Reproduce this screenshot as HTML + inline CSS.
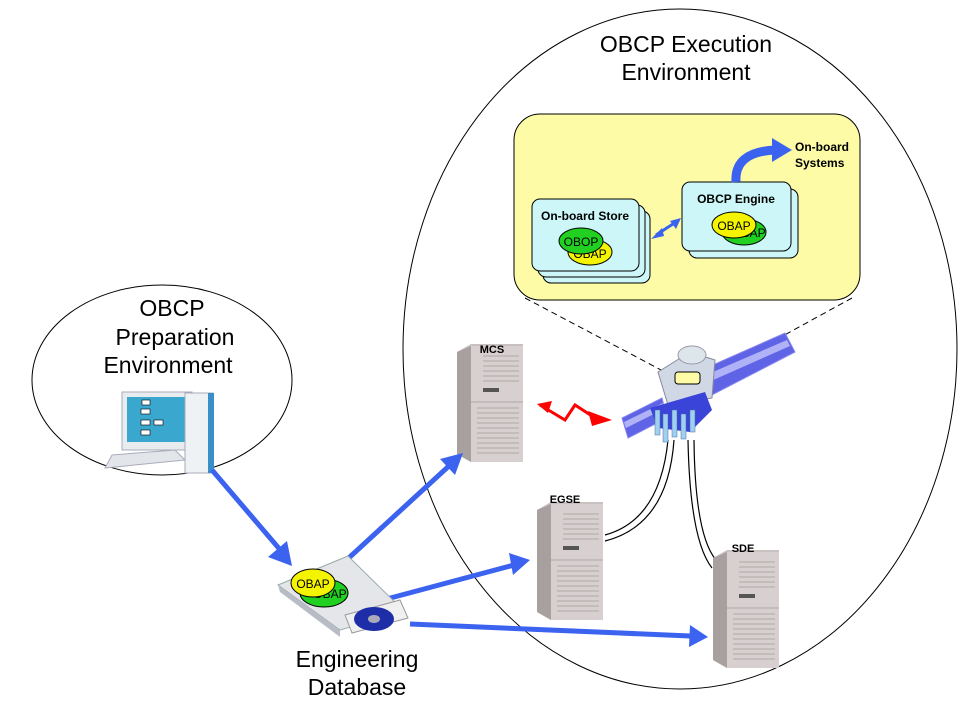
<!DOCTYPE html>
<html><head><meta charset="utf-8"><style>
body{margin:0;background:#fff;}
svg{display:block;font-family:"Liberation Sans",sans-serif;}
</style></head><body>
<svg width="960" height="720" viewBox="0 0 960 720" xmlns="http://www.w3.org/2000/svg">
<defs>
<g id="srv">
<polygon points="0,8 14,0 66,0 66,118 14,118 0,110" fill="#c9c0c0"/>
<polygon points="0,8 14,2 14,118 0,110" fill="#a89f9f"/>
<rect x="14" y="2" width="52" height="116" fill="#d8d0d0"/>
<g stroke="#b0a6a6" stroke-width="1">
<line x1="26" y1="12" x2="62" y2="12"/><line x1="26" y1="17" x2="62" y2="17"/><line x1="26" y1="22" x2="62" y2="22"/><line x1="26" y1="27" x2="62" y2="27"/><line x1="26" y1="32" x2="62" y2="32"/><line x1="26" y1="37" x2="62" y2="37"/>
<line x1="20" y1="64" x2="62" y2="64"/><line x1="20" y1="69" x2="62" y2="69"/><line x1="20" y1="74" x2="62" y2="74"/><line x1="20" y1="79" x2="62" y2="79"/><line x1="20" y1="84" x2="62" y2="84"/><line x1="20" y1="89" x2="62" y2="89"/><line x1="20" y1="94" x2="62" y2="94"/><line x1="20" y1="99" x2="62" y2="99"/><line x1="20" y1="104" x2="62" y2="104"/><line x1="20" y1="109" x2="62" y2="109"/>
</g>
<rect x="26" y="44" width="16" height="4" fill="#555"/>
<line x1="14" y1="58" x2="66" y2="58" stroke="#aaa"/>
</g>
</defs>

<ellipse cx="680" cy="349" rx="277" ry="340" fill="none" stroke="#000" stroke-width="1"/>
<ellipse cx="162" cy="380" rx="130" ry="95" fill="none" stroke="#000" stroke-width="1"/>

<text x="686" y="52" font-size="23" text-anchor="middle">OBCP Execution</text>
<text x="686" y="80" font-size="23" text-anchor="middle">Environment</text>
<text x="172" y="316" font-size="23" text-anchor="middle">OBCP</text>
<text x="175" y="345" font-size="23" text-anchor="middle">Preparation</text>
<text x="168" y="373" font-size="23" text-anchor="middle">Environment</text>
<text x="357" y="667" font-size="23" text-anchor="middle">Engineering</text>
<text x="357" y="695" font-size="23" text-anchor="middle">Database</text>

<line x1="525" y1="298" x2="680" y2="380" stroke="#000" stroke-dasharray="6,4"/>
<line x1="852" y1="298" x2="706" y2="378" stroke="#000" stroke-dasharray="6,4"/>

<rect x="514" y="114" width="346" height="186" rx="26" fill="#fdfba6" stroke="#000" stroke-width="1"/>
<rect x="543" y="211" width="107" height="72" rx="8" fill="#cdf6f8" stroke="#000"/>
<rect x="538" y="205" width="107" height="72" rx="8" fill="#cdf6f8" stroke="#000"/>
<rect x="532" y="199" width="107" height="72" rx="8" fill="#cdf6f8" stroke="#000"/>
<text x="585" y="220" font-size="12" font-weight="bold" text-anchor="middle">On-board Store</text>
<ellipse cx="590" cy="252" rx="22" ry="13" fill="#f4f400" stroke="#000"/>
<text x="590" y="258" font-size="12" text-anchor="middle">OBAP</text>
<ellipse cx="581" cy="241" rx="22" ry="13" fill="#21d021" stroke="#000"/>
<text x="581" y="246" font-size="12" text-anchor="middle">OBOP</text>
<rect x="689" y="189" width="109" height="69" rx="8" fill="#cdf6f8" stroke="#000"/>
<rect x="682" y="182" width="109" height="69" rx="8" fill="#cdf6f8" stroke="#000"/>
<text x="736" y="203" font-size="12" font-weight="bold" text-anchor="middle">OBCP Engine</text>
<ellipse cx="744" cy="232" rx="22" ry="13" fill="#21d021" stroke="#000"/>
<text x="749" y="237" font-size="12" text-anchor="middle">OBAP</text>
<ellipse cx="734" cy="225" rx="22" ry="13" fill="#f4f400" stroke="#000"/>
<text x="734" y="230" font-size="12" text-anchor="middle">OBAP</text>
<line x1="656" y1="235" x2="676" y2="222" stroke="#3b63f0" stroke-width="3"/>
<path d="M651,239 L662,228 L664,236 z M681,218 L670,221 L676,229 z" fill="#3b63f0"/>
<path d="M736,182 Q734,152 775,150" fill="none" stroke="#3b63f0" stroke-width="9"/>
<path d="M772,138 L792,150 L772,162 z" fill="#3b63f0"/>
<text x="795" y="151" font-size="12" font-weight="bold">On-board</text>
<text x="795" y="167" font-size="12" font-weight="bold">Systems</text>

<g fill="none" stroke="#000" stroke-width="1.2">
<path d="M668,440 Q660,520 605,535"/><path d="M674,440 Q668,525 605,541"/>
<path d="M688,440 Q690,540 712,568"/><path d="M694,440 Q695,535 716,560"/>
</g>

<!-- satellite -->
<g>
<polygon points="622,418 662,398 667,418 628,438" fill="#5f63e6" stroke="#8886ee"/>
<polygon points="624,422 663,403 664,409 626,428" fill="#b0b2f7"/>
<polygon points="697,372 785,333 795,352 706,398" fill="#5f63e6" stroke="#8886ee"/>
<polygon points="699,378 787,340 790,346 702,385" fill="#b0b2f7"/>
<polygon points="658,372 690,352 715,360 712,398 668,405" fill="#cfd8e4" stroke="#889"/>
<ellipse cx="692" cy="355" rx="14" ry="9" fill="#dde6ea" stroke="#99a"/>
<polygon points="650,408 705,392 712,410 690,432 658,428" fill="#3b44d8"/>
<g fill="#9fd0f0" stroke="#4a6fa0" stroke-width="0.5">
<rect x="655" y="410" width="5" height="25"/><rect x="663" y="414" width="5" height="28"/><rect x="672" y="410" width="5" height="27"/><rect x="681" y="414" width="5" height="25"/><rect x="690" y="410" width="5" height="22"/>
</g>
<rect x="675" y="372" width="25" height="12" rx="3" fill="#fdfba6" stroke="#000"/>
</g>

<path d="M540,405 L565,420 L575,405 L595,418" fill="none" stroke="#f00" stroke-width="3"/>
<path d="M588,411 L612,420 L592,426 z" fill="#f00"/>
<path d="M537,404 L552,401 L548,413 z" fill="#f00"/>

<use href="#srv" x="457" y="344"/>
<text x="492" y="353" font-size="11" font-weight="bold" text-anchor="middle">MCS</text>
<use href="#srv" x="537" y="502"/>
<text x="565" y="503" font-size="11" font-weight="bold" text-anchor="middle">EGSE</text>
<use href="#srv" x="713" y="550"/>
<text x="743" y="552" font-size="11" font-weight="bold" text-anchor="middle">SDE</text>

<g>
<rect x="122" y="392" width="70" height="58" fill="#e8ecef" stroke="#aab"/>
<rect x="127" y="397" width="60" height="45" fill="#3aa7cf"/>
<g fill="#fff" stroke="#000" stroke-width="0.6">
<rect x="142" y="400" width="8" height="5"/><rect x="141" y="409" width="9" height="5"/><rect x="141" y="420" width="9" height="5"/><rect x="154" y="420" width="9" height="5"/><rect x="141" y="430" width="9" height="5"/></g>
<polygon points="112,455 175,450 185,460 105,468" fill="#e2e6ea" stroke="#aab"/>
<rect x="185" y="393" width="28" height="80" fill="#eef2f4" stroke="#aab"/>
<rect x="208" y="393" width="6" height="80" fill="#3a8fc8"/>
</g>

<g stroke="#3b63f0" stroke-width="5" fill="none">
<line x1="212" y1="470" x2="282" y2="552"/>
<line x1="340" y1="566" x2="450" y2="465"/>
<line x1="383" y1="600" x2="514" y2="565"/>
<line x1="410" y1="624" x2="690" y2="636"/>
</g>
<g fill="#3b63f0">
<path d="M292,566 L268,557 L287,541 z"/>
<path d="M463,453 L455,475 L440,459 z"/>
<path d="M530,560 L513,575 L509,553 z"/>
<path d="M708,637 L689,647 L690,625 z"/>
</g>

<g>
<polygon points="278,585 348,556 405,612 340,630" fill="#e4e6ea" stroke="#9aa"/>
<polygon points="278,585 340,630 340,637 280,592" fill="#b8bcc4"/>
<polygon points="345,615 400,600 408,618 352,633" fill="#f0f0f0" stroke="#999"/>
<ellipse cx="374" cy="619" rx="20" ry="12" fill="#1e2ea8"/>
<ellipse cx="374" cy="619" rx="6" ry="4" fill="#aab"/>
<ellipse cx="324" cy="593" rx="24" ry="14" fill="#21d021" stroke="#000"/>
<text x="330" y="598" font-size="12" text-anchor="middle">OBAP</text>
<ellipse cx="313" cy="583" rx="22" ry="14" fill="#f4f400" stroke="#000"/>
<text x="313" y="588" font-size="12" text-anchor="middle">OBAP</text>
</g>
</svg>
</body></html>
